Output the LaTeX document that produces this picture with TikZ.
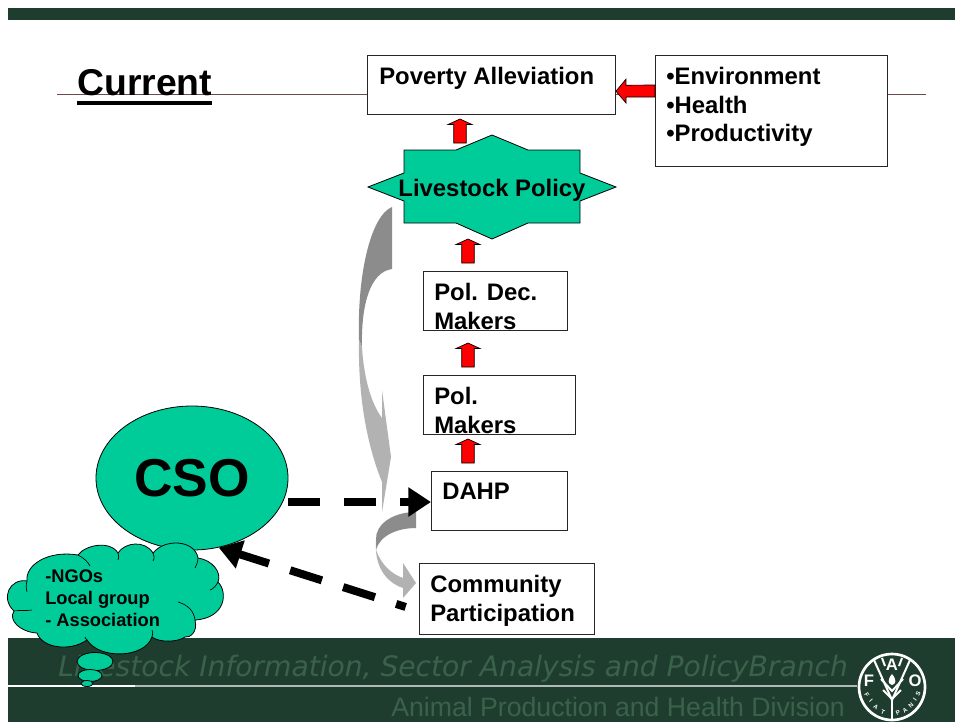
\documentclass[tikz,border=0pt]{standalone}
\usepackage{fontspec}
\setmainfont{Liberation Sans}
\newfontfamily\dvfont{DejaVu Sans}
\usetikzlibrary{shapes.geometric,calc,arrows.meta}
\definecolor{fao}{HTML}{1F3D2F}
\definecolor{teal}{HTML}{00CC99}
\definecolor{hint}{HTML}{3A624A}
\definecolor{rulec}{HTML}{6B4A4A}
\definecolor{gdark}{HTML}{8C8C8C}
\definecolor{glite}{HTML}{B2B2B2}
\tikzset{
  x=0.75pt,y=-0.75pt,
  boxn/.style={draw=black!85,line width=0.7pt,fill=white,inner sep=0pt,anchor=north west},
  txt/.style={font=\bfseries\fontsize{17.9}{21.5}\selectfont,align=left,anchor=north west,inner sep=0pt},
  redline/.style={draw=black,line width=0.5pt,fill=red},
  redup/.pic={\draw[redline] (0,0) -- (12,5.5) -- (6.3,5.5) -- (6.3,24) -- (-6.3,24) -- (-6.3,5.5) -- (-12,5.5) -- cycle;},
  dasharrow/.style={line width=6pt,black,-{Triangle[length=17pt,width=21pt]}},
  cloudline/.style={draw=black,line width=0.6pt,fill=teal},
  crease/.style={draw=black,line width=0.5pt},
  logoletter/.style={text=white,inner sep=0pt,font=\bfseries\fontsize{12.5}{12.5}\selectfont},
  logosmall/.style={text=white,inner sep=0pt,font=\bfseries\fontsize{4.6}{5}\selectfont},
}
\begin{document}
\begin{tikzpicture}
\useasboundingbox (0,0) rectangle (955,722);
\fill[white] (0,0) rectangle (955,722);
\fill[fao] (8,8) rectangle (955,20);
\fill[fao] (8,638) rectangle (955,722);
\draw[rulec,line width=0.5pt] (57,94) -- (926,94);
\draw[white,line width=0.9pt] (8,686) -- (135,686);
\draw[white!65!fao,line width=0.9pt] (135,686) -- (857,686);
\node[anchor=base west,inner sep=0pt,text=hint] (brand) at (58,676)
  {\dvfont\itshape\fontsize{21.1}{28}\selectfont Livestock Information, Sector Analysis and PolicyBranch};
\node[anchor=base west,inner sep=0pt,text=hint] (division) at (391,716)
  {\fontsize{20}{24}\selectfont Animal Production and Health Division};
% title
\node[anchor=base west,inner sep=0pt] (current) at (77,95)
  {\bfseries\fontsize{28}{30}\selectfont Current};
\draw[black,line width=2.4pt] ([yshift=-6pt]current.base west) -- ([yshift=-6pt]current.base east);
% boxes
\node[boxn,minimum width=186pt,minimum height=44.6pt] (poverty) at (367,55) {};
\node[txt] (povertyt) at (379,67) {Poverty Alleviation};
\node[boxn,minimum width=174pt,minimum height=83.6pt] (env) at (655,55) {};
\node[txt] (envt) at (666,67) {•Environment\\•Health\\•Productivity};
\node[boxn,minimum width=108pt,minimum height=44.6pt] (poldec) at (423,271) {};
\node[txt] (poldect) at (434,283) {Pol. Dec.\\Makers};
\node[boxn,minimum width=114pt,minimum height=44.6pt] (pol) at (423,375) {};
\node[txt] (polt) at (434,387) {Pol.\\Makers};
\node[boxn,minimum width=102pt,minimum height=44.6pt] (dahp) at (431,471) {};
\node[txt] (dahpt) at (442,483) {DAHP};
\node[boxn,minimum width=131.5pt,minimum height=53.6pt] (community) at (419,563) {};
\node[txt] (communityt) at (430,575) {Community\\Participation};
% star
\draw[draw=black,line width=0.6pt,fill=teal]
  (492,135) -- (528,150) -- (580,150) -- (580,173) -- (616,187) -- (580,201) -- (580,223)
  -- (528,223) -- (492,239) -- (456,223) -- (404,223) -- (404,201) -- (368,187) -- (404,173)
  -- (404,150) -- (456,150) -- cycle;
\node[inner sep=0pt,anchor=base,font=\bfseries\fontsize{17.9}{21}\selectfont] (policy) at (492,196) {Livestock Policy};
% red arrows
\pic at (460,119) {redup};
\pic at (468,239) {redup};
\pic at (468,343) {redup};
\pic at (468,439) {redup};
\draw[redline] ([yshift=-4.5pt]poverty.east) -- ++(10,-12) -- ++(0,6) -- (env.west |- 0,85) -- (env.west |- 0,97) -- (626,97) -- (626,103) -- cycle;
% grey curved arrows
\fill[gdark] (392,207) .. controls (372,215) and (357,270) .. (359,340)
  -- (362,347) .. controls (361,305) and (370,272) .. (392,269) -- cycle;
\fill[glite] (362,347) .. controls (364,380) and (372,405) .. (382,418) -- (382,390) -- (391,457)
  -- (382,512) -- (382,482) .. controls (365,440) and (358,390) .. (359,340) -- cycle;
\fill[gdark] (416,512) .. controls (392,512) and (375,525) .. (376,540) -- (376,550)
  .. controls (380,535) and (398,528) .. (416,528) -- cycle;
\fill[glite] (376,550) .. controls (382,566) and (392,574) .. (403,578) -- (403,563) -- (416,583)
  -- (403,598) -- (403,588) .. controls (385,582) and (374,565) .. (376,540) -- cycle;
% CSO
\node[ellipse,draw=black,line width=0.6pt,fill=teal,inner sep=0pt,minimum width=144pt,minimum height=108pt,
  font=\bfseries\fontsize{40}{44}\selectfont] (cso) at (192,478) {CSO};
% dashed connectors
\draw[dasharrow,dash pattern=on 24pt off 18pt] ([yshift=-0.6pt]cso.east |- dahp.west) -- ([yshift=-0.6pt]dahp.west);
\draw[dasharrow,dash pattern=on 25pt off 16.7pt,dash phase=17.5pt,shorten <=10.5pt]
  ([yshift=-9pt]community.west) -- (cso.-69.6);
% cloud
\path[cloudline] (27,581)
  .. controls (25,565) and (48,550) .. (78,555)
  .. controls (85,545) and (110,540) .. (118,553)
  .. controls (125,542) and (145,540) .. (153,553)
  .. controls (165,538) and (195,540) .. (198,558)
  .. controls (212,560) and (222,572) .. (218,582)
  .. controls (228,592) and (226,618) .. (195,620)
  .. controls (198,632) and (190,638) .. (185,637)
  .. controls (178,642) and (160,643) .. (152,637)
  .. controls (145,658) and (100,660) .. (87,640)
  .. controls (70,652) and (42,648) .. (37,633)
  .. controls (20,632) and (8,620) .. (14,611)
  .. controls (0,598) and (10,578) .. (27,581) -- cycle;
\draw[crease] (78,555) .. controls (84,558) and (88,562) .. (90,566);
\draw[crease] (118,553) .. controls (119,556) and (119,558) .. (118,560);
\draw[crease] (153,553) .. controls (154,556) and (155,558) .. (153,561);
\draw[crease] (198,558) .. controls (198,562) and (196,566) .. (195,568);
\draw[crease] (218,582) .. controls (216,586) and (213,589) .. (210,590);
\draw[crease] (195,620) .. controls (194,611) and (188,605) .. (178,602);
\draw[crease] (152,637) .. controls (153,634) and (153,632) .. (152,630);
\draw[crease] (87,640) .. controls (86,639) and (85,638) .. (85,637);
\draw[crease] (14,611) .. controls (19,610) and (26,611) .. (32,610);
\draw[crease] (27,581) .. controls (26,585) and (26,588) .. (27,592);
\node[inner sep=0pt,anchor=north west,align=left,font=\bfseries\fontsize{13.7}{16.8}\selectfont] (ngo) at (45,569) {-NGOs\\Local group\\- Association};
\node[ellipse,cloudline,inner sep=0pt,minimum width=27pt,minimum height=13.5pt] (b1) at (95,661.5) {};
\node[ellipse,cloudline,inner sep=0pt,minimum width=18pt,minimum height=9pt] (b2) at (90,675.5) {};
\node[ellipse,cloudline,inner sep=0pt,minimum width=9pt,minimum height=4.5pt] (b3) at (87,683.5) {};
% FAO logo
\begin{scope}[shift={(892,687)}]
\draw[white,line width=2pt,fill=fao] (0,0) circle (33);
\draw[white,line width=1.5pt] (-18,-27) -- (0,13) -- (18,-27);
\draw[white,line width=1.5pt] (-10,-29) -- (-7,-21);
\draw[white,line width=1.5pt] (10,-29) -- (7,-21);
\draw[white,line width=1.5pt] (-11,-8) -- (0,4) -- (11,-8);
\draw[white,line width=1.5pt] (-9,3) -- (0,12) -- (9,3);
\fill[white] (0,-13) .. controls (-5,-7) and (-4,-3) .. (0,-2) .. controls (4,-3) and (5,-7) .. (0,-13) -- cycle;
\draw[white,line width=2pt] (0,10) -- (0,32);
\node[logoletter] (lf) at (-23,-6) {F};
\node[logoletter] (la) at (0,-22) {A};
\node[logoletter] (lo) at (23,-6) {O};
\node[logosmall,rotate=-58] (fiatF) at (-25,8) {F};
\node[logosmall,rotate=-48] (fiatI) at (-21,14) {I};
\node[logosmall,rotate=-36] (fiatA) at (-16,20) {A};
\node[logosmall,rotate=-22] (fiatT) at (-9,25) {T};
\node[logosmall,rotate=22] (panP) at (6,26) {P};
\node[logosmall,rotate=34] (panA) at (13,23) {A};
\node[logosmall,rotate=44] (panN) at (19,18) {N};
\node[logosmall,rotate=54] (panI) at (23,13) {I};
\node[logosmall,rotate=64] (panS) at (26,7) {S};
\end{scope}
\end{tikzpicture}
\end{document}
